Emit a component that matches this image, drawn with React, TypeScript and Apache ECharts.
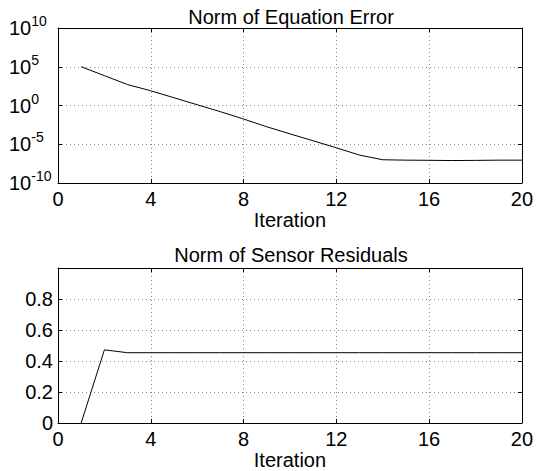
import React, { useEffect, useRef } from "react";
import * as echarts from "echarts";

const iterations = [1, 2, 3, 4, 5, 6, 7, 8, 9, 10, 11, 12, 13, 14, 15, 16, 17, 18, 19, 20];
const equationError = [
  1e5, 7.1e3, 5.0e2, 7.9e1, 1.0e1, 1.26, 1.6e-1, 1.8e-2, 1.8e-3, 2.2e-4,
  2.8e-5, 3.5e-6, 4.0e-7, 1.0e-7, 8.9e-8, 8.5e-8, 7.9e-8, 8.3e-8, 8.9e-8, 8.9e-8,
];
const sensorResiduals = [
  0, 0.472, 0.4535, 0.4535, 0.4535, 0.4535, 0.4535, 0.4535, 0.4535, 0.4535,
  0.4535, 0.4535, 0.4535, 0.4535, 0.4535, 0.4535, 0.4535, 0.4535, 0.4535, 0.4535,
];
const xTicks = { min: 0, max: 20, interval: 4 };
const titles = ["Norm of Equation Error", "Norm of Sensor Residuals"];
const xName = "Iteration";

const FONT = "Liberation Sans, Arial, Helvetica, sans-serif";
const FS = 20;

export default function App() {
  const ref = useRef<HTMLDivElement>(null);
  useEffect(() => {
    if (!ref.current) return;
    const chart = echarts.init(ref.current, null, { renderer: "svg" });
    const grids = [
      { left: 58, right: 12, top: 28, height: 155 },
      { left: 58, right: 12, top: 268, height: 155 },
    ];
    const split = { show: true, lineStyle: { color: "#8a8a8a", type: [1, 3], width: 1 } };
    const mainX = (gi: number) => ({
      type: "value",
      gridIndex: gi,
      min: xTicks.min,
      max: xTicks.max,
      interval: xTicks.interval,
      name: xName,
      nameLocation: "middle",
      nameGap: 22,
      nameTextStyle: { color: "#000", fontSize: FS, fontFamily: FONT },
      axisLine: { show: true, onZero: false, lineStyle: { color: "#000", width: 1 } },
      axisTick: { show: true, inside: true, length: 4, lineStyle: { color: "#000" } },
      axisLabel: { color: "#000", fontSize: FS, fontFamily: FONT, margin: 6 },
      splitLine: split,
    });
    const topX = (gi: number) => ({
      type: "value",
      gridIndex: gi,
      position: "top",
      min: xTicks.min,
      max: xTicks.max,
      interval: xTicks.interval,
      axisLine: { show: true, onZero: false, lineStyle: { color: "#000", width: 1 } },
      axisTick: { show: true, inside: true, length: 4, lineStyle: { color: "#000" } },
      axisLabel: { show: false },
      splitLine: { show: false },
    });
    const option: any = {
      animation: false,
      backgroundColor: "#fff",
      title: [
        {
          text: titles[0],
          left: 291,
          top: 7,
          textAlign: "center",
          padding: 0,
          textStyle: { color: "#000", fontSize: FS, fontWeight: "normal", fontFamily: FONT },
        },
        {
          text: titles[1],
          left: 291,
          top: 245,
          textAlign: "center",
          padding: 0,
          textStyle: { color: "#000", fontSize: FS, fontWeight: "normal", fontFamily: FONT },
        },
      ],
      grid: grids,
      xAxis: [mainX(0), topX(0), mainX(1), topX(1)],
      yAxis: [
        {
          type: "log",
          gridIndex: 0,
          logBase: 10,
          min: 1e-10,
          max: 1e10,
          interval: 5,
          axisLine: { show: true, onZero: false, lineStyle: { color: "#000", width: 1 } },
          axisTick: { show: true, inside: true, length: 4, lineStyle: { color: "#000" } },
          axisLabel: {
            color: "#000",
            fontFamily: FONT,
            fontSize: FS,
            align: "left",
            margin: 49,
            formatter: (v: number) => {
              const e = Math.round(Math.log10(v));
              return "{b|10}{s|" + e + "}";
            },
            rich: {
              b: { fontSize: FS, fontFamily: FONT, color: "#000" },
              s: { fontSize: 14, fontFamily: FONT, color: "#000", padding: [0, 0, 14, 0] },
            },
          },
          splitLine: split,
        },
        {
          type: "log",
          gridIndex: 0,
          position: "right",
          logBase: 10,
          min: 1e-10,
          max: 1e10,
          interval: 5,
          axisLine: { show: true, onZero: false, lineStyle: { color: "#000", width: 1 } },
          axisTick: { show: true, inside: true, length: 4, lineStyle: { color: "#000" } },
          axisLabel: { show: false },
          splitLine: { show: false },
        },
        {
          type: "value",
          gridIndex: 1,
          min: 0,
          max: 1,
          interval: 0.2,
          axisLine: { show: true, onZero: false, lineStyle: { color: "#000", width: 1 } },
          axisTick: { show: true, inside: true, length: 4, lineStyle: { color: "#000" } },
          axisLabel: {
            color: "#000",
            fontSize: FS,
            fontFamily: FONT,
            margin: 5,
            formatter: (v: number) => (v >= 0.999 ? "" : String(Math.round(v * 10) / 10)),
          },
          splitLine: split,
        },
        {
          type: "value",
          gridIndex: 1,
          position: "right",
          min: 0,
          max: 1,
          interval: 0.2,
          axisLine: { show: true, onZero: false, lineStyle: { color: "#000", width: 1 } },
          axisTick: { show: true, inside: true, length: 4, lineStyle: { color: "#000" } },
          axisLabel: { show: false },
          splitLine: { show: false },
        },
      ],
      series: [
        {
          type: "line",
          xAxisIndex: 0,
          yAxisIndex: 0,
          data: iterations.map((x, i) => [x, equationError[i]]),
          showSymbol: false,
          lineStyle: { color: "#000", width: 1 },
        },
        {
          type: "line",
          xAxisIndex: 2,
          yAxisIndex: 2,
          data: iterations.map((x, i) => [x, sensorResiduals[i]]),
          showSymbol: false,
          lineStyle: { color: "#000", width: 1 },
        },
      ],
    };
    chart.setOption(option);
    return () => chart.dispose();
  }, []);
  return (
    <div
      ref={ref}
      style={{ position: "fixed", left: 0, top: 0, width: 536, height: 471, background: "#fff" }}
    />
  );
}
